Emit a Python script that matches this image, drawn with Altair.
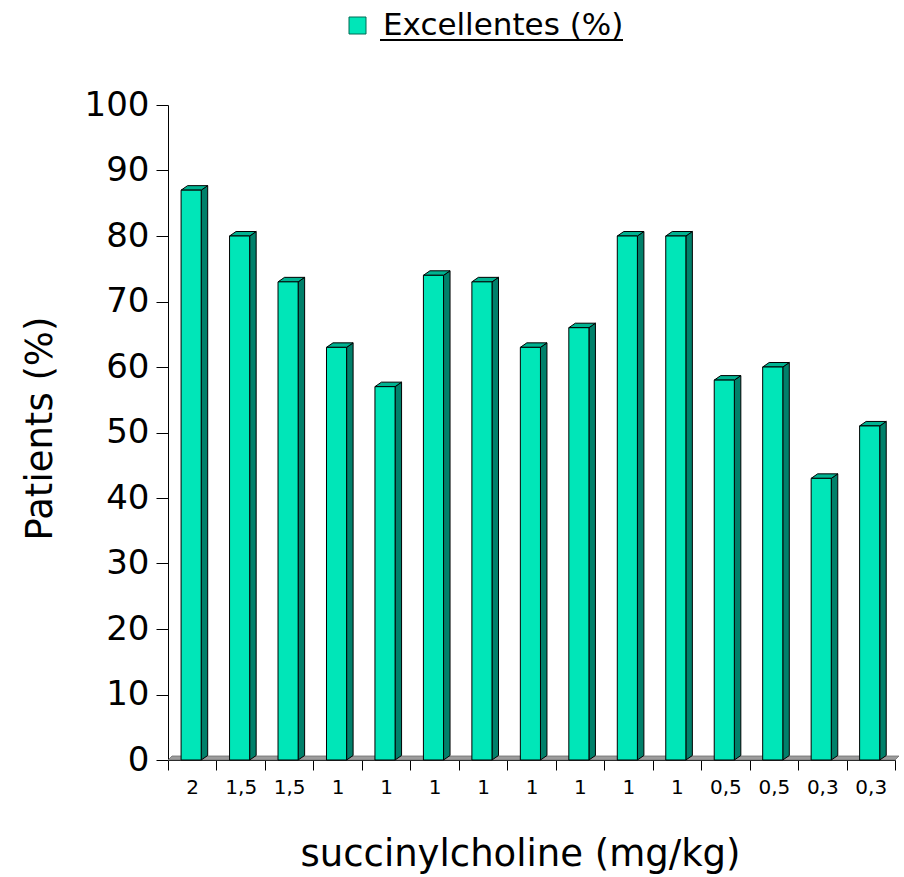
import altair as alt
import pandas as pd

# Succinylcholine dose groups and share of excellent intubating conditions
labels = ["2", "1,5", "1,5", "1", "1", "1", "1", "1", "1", "1", "1", "0,5", "0,5", "0,3", "0,3"]
values = [87, 80, 73, 63, 57, 74, 73, 63, 66, 80, 80, 58, 60, 43, 51]
series_name = "Excellentes (%)"

# geometry of the pseudo-3D columns (in data units of the scales)
W, H = 727, 655
N = len(values)
PX_X = W / N            # pixels per category
PX_Y = H / 100.0        # pixels per percent
FRONT_L, FRONT_R = -0.23, 0.185
DX, DY = 6.5 / PX_X, 4.5 / PX_Y        # column depth
FDX, FDY = 4.0 / PX_X, 4.0 / PX_Y      # floor depth

FRONT = "#00E6B8"
SIDE = "#00806A"
TOP = "#00B391"
EDGE = "#000000"

front_rows, side_rows, top_rows = [], [], []
for i, v in enumerate(values):
    x0, x1 = i + FRONT_L, i + FRONT_R
    front_rows.append({"i": i, "x": x0, "x2": x1, "y": v, "y2": 0, "series": series_name})
    side_rows.append({"i": i, "x": x1, "y": v, "y2": 0})
    side_rows.append({"i": i, "x": x1 + DX, "y": v + DY, "y2": DY})
    top_rows.append({"i": i, "y": v, "x": x0, "x2": x1})
    top_rows.append({"i": i, "y": v + DY, "x": x0 + DX, "x2": x1 + DX})

floor_rows = [
    {"i": 0, "y": 0, "x": -0.5, "x2": N - 0.5},
    {"i": 0, "y": FDY, "x": -0.5 + FDX, "x2": N - 0.5 + FDX},
]

front_df = pd.DataFrame(front_rows)
side_df = pd.DataFrame(side_rows)
top_df = pd.DataFrame(top_rows)
floor_df = pd.DataFrame(floor_rows)

FONT = "DejaVu Sans"

label_js = "[" + ",".join("'" + s + "'" for s in labels) + "]"
x_scale = alt.Scale(domain=[-0.5, N - 0.5], nice=False, zero=False)
y_scale = alt.Scale(domain=[0, 100], nice=False)

x_axis = alt.Axis(
    values=[k - 0.5 for k in range(N + 1)],
    labelExpr=f"datum.value < {N - 1} ? {label_js}[round(datum.value + 0.5)] : ''",
    labelOffset=PX_X / 2,
    labelFlush=False,
    labelOverlap=False,
    labelFontSize=20,
    labelPadding=7,
    tickSize=10,
    grid=False,
    title="succinylcholine (mg/kg)",
    titleFontSize=37,
    titleX=352,
    titleY=105,
    titleAlign="center",
    titleBaseline="alphabetic",
)
y_axis = alt.Axis(
    values=list(range(0, 101, 10)),
    labelFontSize=34,
    labelPadding=7,
    tickSize=12,
    grid=False,
    title="Patients (%)",
    titleFontSize=37,
    titleX=-128,
    titleY=323,
    titleAlign="center",
    titleBaseline="middle",
    titleAngle=-90,
)


def X(field="x"):
    return alt.X(f"{field}:Q", scale=x_scale, axis=x_axis, stack=None)


def Y(field="y"):
    return alt.Y(f"{field}:Q", scale=y_scale, axis=y_axis, stack=None)


floor = alt.Chart(floor_df).mark_area(
    orient="horizontal", fill="#9C9C9C", stroke="#6E6E6E", strokeWidth=0.8
).encode(y=Y(), x=X(), x2="x2:Q")

side = alt.Chart(side_df).mark_area(
    fill=SIDE, stroke=EDGE, strokeWidth=1
).encode(x=X(), y=Y(), y2="y2:Q", detail="i:N")

top = alt.Chart(top_df).mark_area(
    orient="horizontal", fill=TOP, stroke=EDGE, strokeWidth=1
).encode(y=Y(), x=X(), x2="x2:Q", detail="i:N")

front = alt.Chart(front_df).mark_rect(stroke=EDGE, strokeWidth=1).encode(
    x=X(),
    x2="x2:Q",
    y=Y(),
    y2="y2:Q",
    color=alt.Color(
        "series:N",
        scale=alt.Scale(domain=[series_name], range=[FRONT]),
        legend=alt.Legend(
            orient="none",
            legendX=174,
            legendY=-95,
            title=None,
            padding=0,
            symbolType="square",
            symbolSize=289,
            symbolStrokeColor="#006B55",
            symbolStrokeWidth=1,
            symbolOpacity=1,
            labelFontSize=31,
            labelFont=FONT,
            labelColor="#000000",
            labelOffset=10,
            labelLimit=0,
        ),
    ),
)

# underline beneath the legend label
underline = alt.Chart(pd.DataFrame({"k": [0]})).mark_rule(
    color="#000000", strokeWidth=2
).encode(x=alt.value(212), x2=alt.value(455), y=alt.value(-65))

chart = (
    alt.layer(floor, side, top, front, underline)
    .properties(
        width=W,
        height=H,
        autosize=alt.AutoSizeParams(type="none"),
        padding={"left": 168, "top": 105, "right": 9, "bottom": 117},
        background="#FFFFFF",
    )
    .configure_view(stroke=None)
    .configure_axis(
        domainColor="#000000",
        tickColor="#000000",
        labelColor="#000000",
        titleColor="#000000",
        labelFont=FONT,
        titleFont=FONT,
        titleFontWeight="normal",
        domainWidth=1,
        tickWidth=1,
    )
)

chart.save("out.html", embed_options={"renderer": "svg", "actions": False})
